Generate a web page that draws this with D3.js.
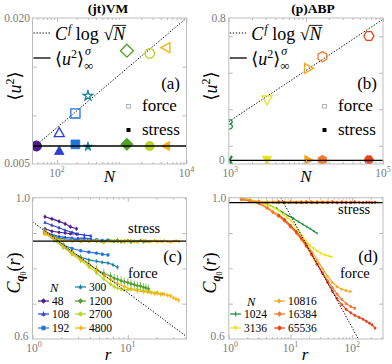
<!DOCTYPE html>
<html>
<head>
<meta charset="utf-8">
<script src="https://cdn.jsdelivr.net/npm/d3@7"></script>
<style>
body { margin: 0; background: #fff; }
</style>
</head>
<body>
<script>
// ---------- data ----------
// (a) (jt)VM : mean square displacement vs N
const nA = [48, 108, 192, 300, 1200, 2700, 4800];
const forceA = [0.00685, 0.00822, 0.0102, 0.0120, 0.01664, 0.01637, 0.01695];
const stressA = [0.00685, 0.00637, 0.00702, 0.00678, 0.00702, 0.00685, 0.00685];
const fitA = [[41.7, 0.00661], [10000, 0.0200]];
const stressInfA = 0.00685;
const colorsA = ["#4b1c8c", "#2b40cc", "#2274dc", "#17809b", "#4fa125", "#b5d51f", "#f6b30f"];
const shapesA = ["circle", "triUp", "square", "star", "diamond", "circle", "triLeft"];

// (b) (p)ABP
const nB = [1024, 3136, 10816, 16384, 65536];
const forceB = [0.2175, 0.351, 0.524, 0.588, 0.701];
const stressB = [0.022, 0.022, 0.022, 0.022, 0.022];
const fitB = [[1000, 0.232], [100000, 0.793]];
const stressInfB = 0.020;
const colorsB = ["#1d8a3a", "#ece21a", "#f8a51e", "#f57830", "#e8441c"];
const shapesB = ["three", "triDown", "triRight", "hexagon", "hexagon2"];

// (c) correlation vs r, (jt)VM
const rC = [
    [1.35, 1.6, 1.9, 2.2, 2.5, 2.9],
    [1.35, 1.6, 1.9, 2.2, 2.6, 3.0, 3.5, 4.1],
    [1.35, 1.7, 2.1, 2.6, 3.2, 3.9, 4.7, 5.4, 6.2],
    [1.35, 1.7, 2.1, 2.6, 3.2, 3.9, 4.7, 5.4, 6.2, 7.0, 7.8],
    [1.35, 1.7, 2.1, 2.6, 3.2, 3.9, 4.7, 5.6, 6.6, 7.2, 7.8, 8.5, 9.2, 10, 10.8, 11.7, 12.6, 13.6, 14.6, 15.5, 16.5],
    [1.35, 1.7, 2.1, 2.6, 3.2, 3.9, 4.7, 5.6, 6.6, 7.2, 7.8, 8.5, 9.2, 10, 10.8, 12.6, 14.6, 17, 20, 23],
    [1.35, 1.7, 2.1, 2.6, 3.2, 3.9, 4.7, 5.6, 6.6, 7.8, 9.2, 10.8, 12.6, 14.6, 16, 17.5, 19, 20.5, 22, 24, 26, 28, 30, 32, 34]
];
const forceC = [
    [0.946, 0.940, 0.933, 0.926, 0.918, 0.912],
    [0.930, 0.922, 0.915, 0.908, 0.902, 0.897, 0.894, 0.892],
    [0.905, 0.885, 0.866, 0.856, 0.850, 0.846, 0.843, 0.840, 0.838],
    [0.900, 0.880, 0.860, 0.845, 0.832, 0.824, 0.820, 0.817, 0.815, 0.810, 0.803],
    [0.905, 0.885, 0.866, 0.846, 0.828, 0.812, 0.797, 0.786, 0.778, 0.772, 0.769, 0.765, 0.762, 0.760, 0.756, 0.754, 0.751, 0.750, 0.746, 0.745, 0.742],
    [0.903, 0.880, 0.860, 0.840, 0.822, 0.805, 0.787, 0.770, 0.755, 0.748, 0.744, 0.741, 0.738, 0.740, 0.742, 0.740, 0.737, 0.734, 0.731, 0.728],
    [0.905, 0.884, 0.864, 0.845, 0.827, 0.810, 0.795, 0.780, 0.768, 0.757, 0.748, 0.741, 0.736, 0.734, 0.733, 0.731, 0.728, 0.730, 0.726, 0.727, 0.724, 0.722, 0.716, 0.713, 0.710]
];
const stressC = [
    [0.912, 0.905, 0.902, 0.900, 0.898, 0.897],
    [0.905, 0.895, 0.890, 0.888, 0.886, 0.885, 0.886, 0.884],
    [0.900, 0.890, 0.884, 0.882, 0.881, 0.880, 0.881, 0.879, 0.880],
    [0.898, 0.886, 0.880, 0.878, 0.879, 0.877, 0.878, 0.876, 0.878, 0.877, 0.876],
    [0.900, 0.888, 0.880, 0.878, 0.876, 0.879, 0.877, 0.874, 0.878, 0.876, 0.880, 0.875, 0.877, 0.879, 0.874, 0.877, 0.876, 0.879, 0.875, 0.877, 0.876],
    [0.898, 0.885, 0.879, 0.877, 0.878, 0.876, 0.878, 0.875, 0.877, 0.879, 0.876, 0.878, 0.874, 0.877, 0.879, 0.876, 0.878, 0.875, 0.877, 0.876],
    [0.897, 0.884, 0.879, 0.878, 0.876, 0.878, 0.877, 0.875, 0.878, 0.876, 0.879, 0.877, 0.874, 0.878, 0.876, 0.877, 0.879, 0.875, 0.877, 0.878, 0.876, 0.874, 0.877, 0.878, 0.876]
];
const errC = [0.006, 0.005, 0.005, 0.006, 0.012, 0.006, 0.007];
const fitC = [[1, 0.932], [41.3, 0.607]];
const stressInfC = 0.877;

// (d) correlation vs r, (p)ABP
const rD = [
    [1.6, 2.2, 3.1, 4.2, 5.9, 7.5, 9.3, 11.1, 13.5, 16, 18.3, 21, 24, 27],
    [1.6, 2.2, 2.8, 3.5, 4.5, 5.5, 6.5, 7.6, 8.8, 10.2, 11.8, 13.6, 15.6, 17.8, 20.5, 23.5, 27, 31, 36, 41, 46],
    [1.6, 2.2, 3.1, 4.2, 5.2, 6.5, 8, 10, 12.5, 15, 18, 22, 27, 33, 40, 48, 57, 68, 80, 94],
    [1.6, 2.2, 3.1, 4.2, 5.2, 6.3, 8, 10, 12.5, 15, 18, 22, 27, 33, 40, 48, 57, 68, 80, 95, 110],
    [6.5, 8, 10, 12.5, 15, 18, 22, 27, 33, 40, 48, 57, 68, 80, 95, 110, 130, 150, 170, 190, 210, 235]
];
const forceD = [
    [0.998, 0.994, 0.989, 0.981, 0.970, 0.958, 0.948, 0.942, 0.932, 0.924, 0.918, 0.912, 0.905, 0.899],
    [0.997, 0.994, 0.990, 0.985, 0.978, 0.971, 0.963, 0.953, 0.944, 0.935, 0.922, 0.906, 0.891, 0.877, 0.866, 0.857, 0.849, 0.843, 0.838, 0.835, 0.832],
    [0.996, 0.993, 0.985, 0.973, 0.962, 0.951, 0.938, 0.922, 0.905, 0.888, 0.870, 0.848, 0.824, 0.800, 0.778, 0.760, 0.748, 0.741, 0.737, 0.734],
    [0.995, 0.991, 0.983, 0.970, 0.958, 0.948, 0.934, 0.917, 0.899, 0.882, 0.862, 0.838, 0.812, 0.788, 0.765, 0.745, 0.727, 0.712, 0.700, 0.692, 0.687],
    [0.950, 0.938, 0.921, 0.903, 0.886, 0.865, 0.840, 0.812, 0.786, 0.760, 0.735, 0.714, 0.697, 0.684, 0.674, 0.667, 0.661, 0.656, 0.650, 0.645, 0.640, 0.631]
];
const stressD = [
    [0.997, 0.992, 0.989, 0.988, 0.987, 0.988, 0.986, 0.987, 0.988, 0.986, 0.987, 0.988, 0.986, 0.987],
    [0.996, 0.991, 0.989, 0.988, 0.987, 0.987, 0.988, 0.986, 0.987, 0.988, 0.987, 0.986, 0.987, 0.988, 0.987, 0.986, 0.987, 0.988, 0.986, 0.987, 0.987],
    [0.995, 0.991, 0.988, 0.987, 0.988, 0.986, 0.987, 0.988, 0.987, 0.986, 0.987, 0.988, 0.986, 0.987, 0.987, 0.988, 0.986, 0.987, 0.987, 0.986],
    [0.995, 0.990, 0.988, 0.987, 0.987, 0.988, 0.986, 0.987, 0.987, 0.988, 0.986, 0.987, 0.988, 0.987, 0.986, 0.987, 0.987, 0.988, 0.986, 0.987, 0.987],
    [0.988, 0.987, 0.987, 0.986, 0.987, 0.988, 0.987, 0.986, 0.987, 0.987, 0.988, 0.986, 0.987, 0.987, 0.986, 0.988, 0.987, 0.986, 0.987, 0.987, 0.986, 0.987]
];
const errD = [0.003, 0.003, 0.004, 0.004, 0.004];
const fitD = [[6.6, 1.0075], [126, 0.6]];
const stressInfD = 0.986;

// ---------- layout ----------
const svg = d3.select("body").append("svg")
    .attr("width", 392).attr("height", 364)
    .style("font-family", '"Liberation Serif", "DejaVu Serif", serif');
const defs = svg.append("defs");

const boxA = {l: 32.5, r: 186.5, t: 18, b: 164};
const boxB = {l: 228.8, r: 383, t: 18, b: 164};
const boxC = {l: 32.5, r: 186.5, t: 197.7, b: 339};
const boxD = {l: 228.8, r: 383, t: 197.7, b: 339};

const xA = d3.scaleLog().domain([41.7, 1e4]).range([boxA.l, boxA.r]);
const yA = d3.scaleLinear().domain([0.005, 0.020]).range([boxA.b, boxA.t]);
const xB = d3.scaleLog().domain([1e3, 1e5]).range([boxB.l, boxB.r]);
const yB = d3.scaleLinear().domain([0, 0.8]).range([boxB.b, boxB.t]);
const xC = d3.scaleLog().domain([1, 41.3]).range([boxC.l, boxC.r]);
const yC = d3.scaleLinear().domain([0.6, 1.0]).range([boxC.b, boxC.t]);
const xD = d3.scaleLog().domain([1, 316]).range([boxD.l, boxD.r]);
const yD = d3.scaleLinear().domain([0.6, 1.0]).range([boxD.b, boxD.t]);

const GRAY = "#7a7a7a";

function markerPath(kind, s) {
    const poly = pts => "M" + pts.map(p => p[0].toFixed(2) + "," + p[1].toFixed(2)).join("L") + "Z";
    const ring = (n, r, a0) => d3.range(n).map(k => [r * Math.cos(a0 + 2 * Math.PI * k / n), r * Math.sin(a0 + 2 * Math.PI * k / n)]);
    switch (kind) {
        case "circle": return d3.symbol(d3.symbolCircle, Math.PI * s * s)();
        case "square": return poly([[-s, -s], [s, -s], [s, s], [-s, s]]);
        case "diamond": return poly([[0, -1.3 * s], [1.3 * s, 0], [0, 1.3 * s], [-1.3 * s, 0]]);
        case "triUp": return poly([[0, -s], [s, 0.8 * s], [-s, 0.8 * s]]);
        case "triDown": return poly([[0, s], [s, -0.8 * s], [-s, -0.8 * s]]);
        case "triLeft": return poly([[-s, 0], [0.8 * s, -s], [0.8 * s, s]]);
        case "triRight": return poly([[s, 0], [-0.8 * s, -s], [-0.8 * s, s]]);
        case "hexagon": return poly(ring(6, s * 1.05, -Math.PI / 2));
        case "hexagon2": return poly(ring(6, s * 1.05, 0));
        case "star": return poly(d3.range(10).map(k => {
            const a = -Math.PI / 2 + k * Math.PI / 5, r = k % 2 ? s * 0.42 : s * 1.1;
            return [r * Math.cos(a), r * Math.sin(a)];
        }));
        case "three": {
            const k = s / 4;
            return `M${-2.2 * k},${-3.6 * k}C${2.8 * k},${-4.6 * k} ${3.4 * k},${-0.6 * k} ${-0.2 * k},${-0.2 * k}` +
                `C${3.6 * k},${0.2 * k} ${3 * k},${4.6 * k} ${-2.4 * k},${3.8 * k}`;
        }
        case "tri": return `M0,0L${-s},0M0,0L${0.5 * s},${-0.87 * s}M0,0L${0.5 * s},${0.87 * s}`;
    }
}

function plotArea(name, box) {
    defs.append("clipPath").attr("id", "clip-" + name).append("rect")
        .attr("x", box.l).attr("y", box.t).attr("width", box.r - box.l).attr("height", box.b - box.t);
    return svg.append("g").attr("clip-path", `url(#clip-${name})`);
}

function drawTicks(box, x, y, xMajor, yMajor) {
    const g = svg.append("g");
    const xMinor = x.ticks().filter(v => Math.abs(Math.log10(v) - Math.round(Math.log10(v))) > 1e-6);
    const put = (axis, tx, ty) => g.append("g").attr("transform", `translate(${tx},${ty})`).call(axis);
    put(d3.axisBottom(x).tickValues(xMajor).tickSize(-4).tickFormat(""), 0, box.b);
    put(d3.axisTop(x).tickValues(xMajor).tickSize(-4).tickFormat(""), 0, box.t);
    put(d3.axisBottom(x).tickValues(xMinor).tickSize(-2).tickFormat(""), 0, box.b);
    put(d3.axisTop(x).tickValues(xMinor).tickSize(-2).tickFormat(""), 0, box.t);
    put(d3.axisLeft(y).tickValues(yMajor).tickSize(-4).tickFormat(""), box.l, 0);
    put(d3.axisRight(y).tickValues(yMajor).tickSize(-4).tickFormat(""), box.r, 0);
    g.selectAll(".domain").remove();
    g.selectAll("text").remove();
    g.selectAll("line").attr("stroke", "#a8a8a8").attr("stroke-width", 0.8);
}

function frame(box) {
    svg.append("rect").attr("x", box.l).attr("y", box.t)
        .attr("width", box.r - box.l).attr("height", box.b - box.t)
        .attr("fill", "none").attr("stroke", "#bdbdbd").attr("stroke-width", 1);
}

function label(x, y, str, size, opts = {}) {
    return svg.append("text").attr("x", x).attr("y", y)
        .attr("font-size", size).attr("fill", opts.fill || "#000")
        .attr("text-anchor", opts.anchor || "start")
        .attr("font-style", opts.italic ? "italic" : null)
        .attr("font-weight", opts.bold ? "bold" : null)
        .text(str);
}

function powLabel(x, y, exp) {
    const t = svg.append("text").attr("x", x).attr("y", y).attr("font-size", 11.5)
        .attr("fill", GRAY).attr("text-anchor", "middle");
    t.append("tspan").text("10");
    t.append("tspan").attr("font-size", 8).attr("dy", -5).text(exp);
}

function lineXY(x, y) {
    return d3.line().x(d => x(d[0])).y(d => y(d[1]));
}

// ---------- (a) and (b): <u^2> vs N ----------
function scatterPanel(name, box, x, y, ns, force, stress, fit, stressInf, colors, shapes, sizes) {
    const g = plotArea(name, box);
    g.append("path").attr("d", lineXY(x, y)(fit))
        .attr("fill", "none").attr("stroke", "#000").attr("stroke-width", 1)
        .attr("stroke-dasharray", "1.3,1.7");
    g.selectAll(".f").data(ns).join("path")
        .attr("transform", (n, i) => `translate(${x(n)},${y(force[i])})`)
        .attr("d", (n, i) => markerPath(shapes[i], sizes[shapes[i]]))
        .attr("fill", "none").attr("stroke", (n, i) => colors[i]).attr("stroke-width", 1.3);
    g.selectAll(".s").data(ns).join("path")
        .attr("transform", (n, i) => `translate(${x(n)},${y(stress[i])})`)
        .attr("d", (n, i) => markerPath(shapes[i] === "three" ? "tri" : shapes[i], sizes[shapes[i]] * 0.95))
        .attr("fill", (n, i) => colors[i]).attr("stroke", (n, i) => colors[i])
        .attr("stroke-width", (n, i) => shapes[i] === "three" ? 2.2 : 0.8);
    g.append("line").attr("x1", box.l).attr("x2", box.r)
        .attr("y1", y(stressInf)).attr("y2", y(stressInf))
        .attr("stroke", "#000").attr("stroke-width", 1.3);
}

const sizes = {circle: 4.8, triUp: 5, square: 4.6, star: 4.6, diamond: 5, triLeft: 5,
    three: 5, triDown: 5, triRight: 5, hexagon: 4.8, hexagon2: 4.8};

scatterPanel("a", boxA, xA, yA, nA, forceA, stressA, fitA, stressInfA, colorsA, shapesA, sizes);
scatterPanel("b", boxB, xB, yB, nB, forceB, stressB, fitB, stressInfB, colorsB, shapesB, sizes);

drawTicks(boxA, xA, yA, [100, 10000], [0.010, 0.015]);
drawTicks(boxB, xB, yB, [1e3, 1e4, 1e5], [0.1, 0.3, 0.5, 0.7]);
frame(boxA);
frame(boxB);

function mathLegend(x0, yTop, yBot) {
    // dotted handle + C^f log sqrt(N)
    svg.append("line").attr("x1", x0 - 21.5).attr("x2", x0 - 4.5).attr("y1", yTop - 7).attr("y2", yTop - 7)
        .attr("stroke", "#000").attr("stroke-width", 1).attr("stroke-dasharray", "1.3,1.7");
    const t1 = svg.append("text").attr("x", x0).attr("y", yTop).attr("font-size", 18);
    t1.append("tspan").attr("font-style", "italic").text("C");
    t1.append("tspan").attr("font-style", "italic").attr("font-size", 12).attr("dy", -7).attr("dx", 1).text("f");
    t1.append("tspan").attr("dy", 7).text(" log ");
    t1.append("tspan").text("√");
    t1.append("tspan").attr("font-style", "italic").text("N");
    const n = t1.text().length;
    const sx = t1.node().getStartPositionOfChar(n - 1).x;
    const ex = t1.node().getEndPositionOfChar(n - 1).x;
    svg.append("line").attr("x1", sx - 0.5).attr("x2", ex + 1)
        .attr("y1", yTop - 14.6).attr("y2", yTop - 14.6)
        .attr("stroke", "#000").attr("stroke-width", 0.9);

    // solid handle + <u^2>^sigma_inf
    svg.append("line").attr("x1", x0 - 21.5).attr("x2", x0 - 4.5).attr("y1", yBot - 7).attr("y2", yBot - 7)
        .attr("stroke", "#000").attr("stroke-width", 1.3);
    const t2 = svg.append("text").attr("x", x0).attr("y", yBot).attr("font-size", 18);
    t2.append("tspan").text("⟨");
    t2.append("tspan").attr("font-style", "italic").text("u");
    t2.append("tspan").attr("font-size", 12).attr("dy", -7).text("2");
    t2.append("tspan").attr("dy", 7).text("⟩");
    const w = t2.node().getComputedTextLength();
    label(x0 + w + 1, yBot - 10, "σ", 12, {italic: true});
    label(x0 + w, yBot + 5, "∞", 13);
}

function forceStressKey(sx, yF, yS, size) {
    svg.append("rect").attr("x", sx - 1.8).attr("y", yF - 6.5).attr("width", 3.6).attr("height", 3.6)
        .attr("fill", "none").attr("stroke", "#999").attr("stroke-width", 0.8);
    label(sx + 13.5, yF, "force", size);
    svg.append("rect").attr("x", sx - 2).attr("y", yS - 7).attr("width", 4).attr("height", 4).attr("fill", "#000");
    label(sx + 13.5, yS, "stress", size);
}

mathLegend(55, 40, 65);
mathLegend(251.3, 40, 65);
label(180, 89, "(a)", 17, {anchor: "end"});
label(377, 89, "(b)", 17, {anchor: "end"});
forceStressKey(128.5, 111, 135, 17);
forceStressKey(324.5, 111, 135, 17);

label(108, 12.5, "(jt)VM", 13.5, {anchor: "middle", bold: true});
label(313, 12.5, "(p)ABP", 13.5, {anchor: "middle", bold: true});

// tick labels (a) (b)
label(boxA.l - 2.5, boxA.t + 4, "0.020", 11.5, {anchor: "end", fill: GRAY});
label(boxA.l - 2.5, boxA.b + 3, "0.005", 11.5, {anchor: "end", fill: GRAY});
powLabel(xA(100), boxA.b + 12.5, "2");
powLabel(xA(10000), boxA.b + 12.5, "4");
label(boxB.l - 3, boxB.t + 4, "0.8", 11.5, {anchor: "end", fill: GRAY});
label(boxB.l - 4, boxB.b, "0", 11.5, {anchor: "end", fill: GRAY});
powLabel(xB(1e3) + 1.5, boxB.b + 13, "3");
powLabel(xB(1e5), boxB.b + 12.5, "5");

label(109.5, 182, "N", 17, {anchor: "middle", italic: true});
label(306, 182, "N", 17, {anchor: "middle", italic: true});

function uLabel(cx, cy) {
    const t = svg.append("text").attr("transform", `translate(${cx},${cy}) rotate(-90)`)
        .attr("font-size", 18).attr("text-anchor", "middle");
    t.append("tspan").text("⟨");
    t.append("tspan").attr("font-style", "italic").text("u");
    t.append("tspan").attr("font-size", 12).attr("dy", -7).text("2");
    t.append("tspan").attr("dy", 7).text("⟩");
}
uLabel(20.5, 86);
uLabel(216.5, 86);

// ---------- (c) and (d): C_q0(r) vs r ----------
function curvePanel(name, box, x, y, rs, force, stress, errs, colors, shapes, fit, stressInf) {
    const g = plotArea(name, box);
    const line = lineXY(x, y);
    rs.forEach((r, i) => {
        [[stress[i], 0.004], [force[i], errs[i]]].forEach(([cs, e]) => {
            const pts = r.map((v, j) => [v, cs[j]]);
            const s = g.append("g");
            s.append("path").attr("d", line(pts)).attr("fill", "none")
                .attr("stroke", colors[i]).attr("stroke-width", 1.1);
            s.selectAll("line").data(pts).join("line")
                .attr("x1", d => x(d[0])).attr("x2", d => x(d[0]))
                .attr("y1", d => y(d[1] - e)).attr("y2", d => y(d[1] + e))
                .attr("stroke", colors[i]).attr("stroke-width", 0.7);
            s.selectAll(".m").data(pts).join("path")
                .attr("transform", d => `translate(${x(d[0])},${y(d[1])})`)
                .attr("d", markerPath(shapes[i] === "three" ? "tri" : shapes[i], 1.2))
                .attr("fill", colors[i]).attr("stroke", colors[i]).attr("stroke-width", 0.5);
        });
    });
    g.append("path").attr("d", line(fit)).attr("fill", "none")
        .attr("stroke", "#000").attr("stroke-width", 1).attr("stroke-dasharray", "1.3,1.7");
    g.append("line").attr("x1", box.l).attr("x2", box.r)
        .attr("y1", y(stressInf)).attr("y2", y(stressInf))
        .attr("stroke", "#000").attr("stroke-width", 1.3);
}

curvePanel("c", boxC, xC, yC, rC, forceC, stressC, errC, colorsA, shapesA, fitC, stressInfC);
curvePanel("d", boxD, xD, yD, rD, forceD, stressD, errD, colorsB, shapesB, fitD, stressInfD);

drawTicks(boxC, xC, yC, [1, 10], [0.7, 0.8, 0.9]);
drawTicks(boxD, xD, yD, [1, 10, 100], [0.7, 0.8, 0.9]);
frame(boxC);
frame(boxD);

label(boxC.l - 2.5, boxC.t + 4, "1.0", 11.5, {anchor: "end", fill: GRAY});
label(boxC.l - 4, boxC.b + 1, "0.6", 11.5, {anchor: "end", fill: GRAY});
powLabel(xC(1) + 1.5, boxC.b + 13, "0");
powLabel(xC(10), boxC.b + 12.5, "1");
label(boxD.l - 2.5, boxD.t + 4, "1.0", 11.5, {anchor: "end", fill: GRAY});
label(boxD.l - 4, boxD.b + 1, "0.6", 11.5, {anchor: "end", fill: GRAY});
powLabel(xD(1) + 1.5, boxD.b + 13, "0");
powLabel(xD(10), boxD.b + 12.5, "1");
powLabel(xD(100), boxD.b + 12.5, "2");

label(108, 360, "r", 17, {anchor: "middle", italic: true});
label(305, 360, "r", 17, {anchor: "middle", italic: true});

label(128, 233, "stress", 14.5);
label(128, 278, "force", 14.5);
label(182, 262, "(c)", 17, {anchor: "end"});
label(338, 214, "stress", 14.5);
label(340, 278, "force", 14.5);
label(378, 262, "(d)", 17, {anchor: "end"});

function cLabel(cx, cy) {
    const t = svg.append("text").attr("transform", `translate(${cx},${cy}) rotate(-90)`)
        .attr("font-size", 18).attr("text-anchor", "middle");
    t.append("tspan").attr("font-style", "italic").text("C");
    t.append("tspan").attr("font-style", "italic").attr("font-weight", "bold").attr("font-size", 12).attr("dy", 4).text("q");
    t.append("tspan").attr("font-size", 8).attr("dy", 2).text("0");
    t.append("tspan").attr("dy", -6).text("(");
    t.append("tspan").attr("font-style", "italic").text("r");
    t.append("tspan").text(")");
}
cLabel(19.5, 273);
cLabel(215.5, 273);

// legends of (c) and (d)
function curveLegend(ns, colors, shapes, slots, rows, nPos) {
    label(nPos[0], nPos[1], "N", 12.5, {italic: true});
    ns.forEach((n, i) => {
        const [lx, row] = slots[i];
        const yy = rows[row] - 4;
        svg.append("line").attr("x1", lx).attr("x2", lx + 11).attr("y1", yy).attr("y2", yy)
            .attr("stroke", colors[i]).attr("stroke-width", 1.2);
        svg.append("line").attr("x1", lx + 5.5).attr("x2", lx + 5.5).attr("y1", yy - 2.5).attr("y2", yy + 2.5)
            .attr("stroke", colors[i]).attr("stroke-width", 0.8);
        svg.append("path").attr("transform", `translate(${lx + 5.5},${yy})`)
            .attr("d", markerPath(shapes[i] === "three" ? "tri" : shapes[i], 1.8))
            .attr("fill", colors[i]).attr("stroke", colors[i]).attr("stroke-width", 0.6);
        label(lx + 14, rows[row], String(n), 11.5);
    });
}

curveLegend(nA, colorsA, shapesA,
    [[38, 1], [38, 2], [38, 3], [75, 0], [75, 1], [75, 2], [75, 3]],
    [291, 305, 318, 332], [50, 292]);
curveLegend(nB, colorsB, shapesB,
    [[230, 1], [230, 2], [274, 0], [274, 1], [274, 2]],
    [305, 318, 332], [247, 306]);
</script>
</body>
</html>
